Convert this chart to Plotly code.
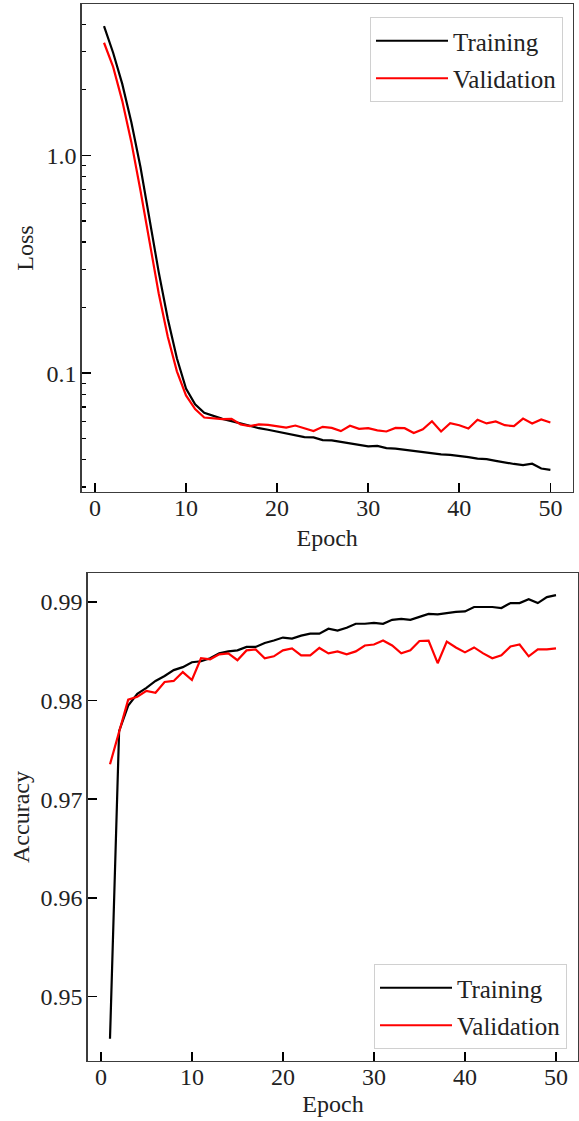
import plotly.graph_objects as go
import numpy as np

epochs = list(range(1, 51))

loss_train = [3.92, 2.96, 2.13, 1.42, 0.884, 0.513, 0.292, 0.178, 0.117, 0.085,
              0.072, 0.0658, 0.0635, 0.0617, 0.0602, 0.0586, 0.0574, 0.0559, 0.0550, 0.0540,
              0.0529, 0.0519, 0.0509, 0.0507, 0.0493, 0.0491, 0.0484, 0.0476, 0.0471, 0.0461,
              0.0464, 0.0453, 0.0450, 0.0445, 0.0440, 0.0434, 0.0428, 0.0424, 0.0422, 0.0418,
              0.0412, 0.0405, 0.0403, 0.0396, 0.0388, 0.0383, 0.0378, 0.0384, 0.0365, 0.0360]

loss_val = [3.29, 2.55, 1.78, 1.15, 0.69, 0.397, 0.233, 0.147, 0.102, 0.079,
            0.0684, 0.0626, 0.0622, 0.0615, 0.0617, 0.0582, 0.0571, 0.0582, 0.0579, 0.0569,
            0.0563, 0.0575, 0.0559, 0.0542, 0.0567, 0.0561, 0.0542, 0.0574, 0.0555, 0.0559,
            0.0546, 0.0540, 0.0561, 0.0559, 0.0531, 0.0553, 0.0602, 0.0540, 0.0590, 0.0577,
            0.0557, 0.0611, 0.0588, 0.0600, 0.0577, 0.0571, 0.0619, 0.0588, 0.0613, 0.0594]

acc_train = [0.9457, 0.9769, 0.9795, 0.9807, 0.9813, 0.9820, 0.9825, 0.9831, 0.9834, 0.9839,
             0.9840, 0.9843, 0.9848, 0.9850, 0.9851, 0.98545, 0.98545, 0.98585, 0.9861, 0.9864,
             0.9863, 0.9866, 0.9868, 0.9868, 0.9873, 0.9871, 0.9874, 0.9878, 0.9878, 0.9879,
             0.9878, 0.9882, 0.9883, 0.9882, 0.9885, 0.9888, 0.98875, 0.9889, 0.9890, 0.98905,
             0.9895, 0.9895, 0.9895, 0.9894, 0.9899, 0.9899, 0.9903, 0.9899, 0.9905, 0.9907]

acc_val = [0.97355, 0.9769, 0.9801, 0.9804, 0.9810, 0.9808, 0.9819, 0.9820, 0.9829, 0.9821,
           0.9843, 0.9842, 0.9847, 0.9848, 0.9841, 0.9851, 0.9852, 0.9843, 0.9845, 0.9851,
           0.9853, 0.9846, 0.9846, 0.98535, 0.9848, 0.9850, 0.9847, 0.9850, 0.9856, 0.9857,
           0.9861, 0.9856, 0.9848, 0.9851, 0.98605, 0.9861, 0.9838, 0.9860, 0.9854, 0.9849,
           0.9854, 0.9848, 0.9843, 0.9846, 0.9855, 0.9857, 0.9845, 0.9852, 0.9852, 0.9853]

x_ticks = [0, 10, 20, 30, 40, 50]
loss_ticks = [0.1, 1.0]
loss_ticktext = ["0.1", "1.0"]
loss_minor = [0.03, 0.04, 0.05, 0.06, 0.07, 0.08, 0.09,
              0.2, 0.3, 0.4, 0.5, 0.6, 0.7, 0.8, 0.9, 2, 3, 4]
acc_ticks = [0.95, 0.96, 0.97, 0.98, 0.99]
acc_ticktext = ["0.95", "0.96", "0.97", "0.98", "0.99"]

W, H = 579, 1121
FONT = "Liberation Serif, Times New Roman, serif"
FS = 24
SPINE = "#3c3c3c"
TXT = "#222"

# matplotlib-like 5% margins
xpad = 0.05 * (max(epochs) - min(epochs))
xrange_ = [min(epochs) - xpad, max(epochs) + xpad]
llo = np.log10(min(loss_train + loss_val)); lhi = np.log10(max(loss_train + loss_val))
lpad = 0.05 * (lhi - llo)
lrange = [llo - lpad, lhi + lpad]
alo = min(acc_train + acc_val); ahi = max(acc_train + acc_val)
apad = 0.05 * (ahi - alo)
arange_ = [alo - apad, ahi + apad]

fig = go.Figure()
fig.add_trace(go.Scatter(x=epochs, y=loss_train, mode="lines", name="Training",
                         line=dict(color="black", width=2.2), xaxis="x", yaxis="y",
                         legend="legend", legendgroup="lt"))
fig.add_trace(go.Scatter(x=epochs, y=loss_val, mode="lines", name="Validation",
                         line=dict(color="red", width=2.2), xaxis="x", yaxis="y",
                         legend="legend", legendgroup="lv"))
fig.add_trace(go.Scatter(x=epochs, y=acc_train, mode="lines", name="Training",
                         line=dict(color="black", width=2.2), xaxis="x2", yaxis="y2",
                         legend="legend2", legendgroup="at"))
fig.add_trace(go.Scatter(x=epochs, y=acc_val, mode="lines", name="Validation",
                         line=dict(color="red", width=2.2), xaxis="x2", yaxis="y2",
                         legend="legend2", legendgroup="av"))

common = dict(showgrid=False, zeroline=False, showline=True, linecolor=SPINE, linewidth=1.3,
              mirror=True, ticks="inside", ticklen=9, tickwidth=1.6, tickcolor="black",
              tickfont=dict(family=FONT, size=FS, color=TXT), automargin=False)
xcommon = dict(common, ticklabelstandoff=-6)
ycommon = dict(common, ticklabelstandoff=-1)
tfont = dict(family=FONT, size=FS, color=TXT)
lfont = dict(family=FONT, size=25, color=TXT)

fig.update_layout(
    width=W, height=H, margin=dict(l=0, r=0, t=0, b=0),
    paper_bgcolor="white", plot_bgcolor="white", template="none",
    font=dict(family=FONT, size=FS, color=TXT),
    xaxis=dict(domain=[81.7 / W, 572.7 / W], anchor="y", range=xrange_, tickvals=x_ticks,
               title=dict(text="Epoch", standoff=9, font=tfont), **xcommon),
    yaxis=dict(domain=[1 - 492 / H, 1 - 4 / H], anchor="x", type="log", range=lrange,
               tickvals=loss_ticks, ticktext=loss_ticktext,
               minor=dict(tickvals=loss_minor, ticks="inside", ticklen=4.5, tickwidth=1.2,
                          tickcolor="black", showgrid=False),
               title=dict(text="Loss", standoff=6, font=tfont), **ycommon),
    xaxis2=dict(domain=[87.7 / W, 578.3 / W], anchor="y2", range=xrange_, tickvals=x_ticks,
                title=dict(text="Epoch", standoff=6, font=tfont), **xcommon),
    yaxis2=dict(domain=[1 - 1061 / H, 1 - 573 / H], anchor="x2", range=arange_,
                tickvals=acc_ticks, ticktext=acc_ticktext,
                title=dict(text="Accuracy", standoff=4, font=tfont), **ycommon),
    legend=dict(x=563 / W, xanchor="right", y=1 - 17 / H, yanchor="top",
                bgcolor="rgba(255,255,255,0.9)", bordercolor="#d0d0d0", borderwidth=1,
                font=lfont, itemwidth=72, tracegroupgap=2),
    legend2=dict(x=567 / W, xanchor="right", y=1 - 964 / H, yanchor="top",
                 bgcolor="rgba(255,255,255,0.9)", bordercolor="#d0d0d0", borderwidth=1,
                 font=lfont, itemwidth=72, tracegroupgap=2),
)

fig.write_html("out.html", post_script="document.body.style.margin='0';",
               config={"displayModeBar": False, "staticPlot": True})
